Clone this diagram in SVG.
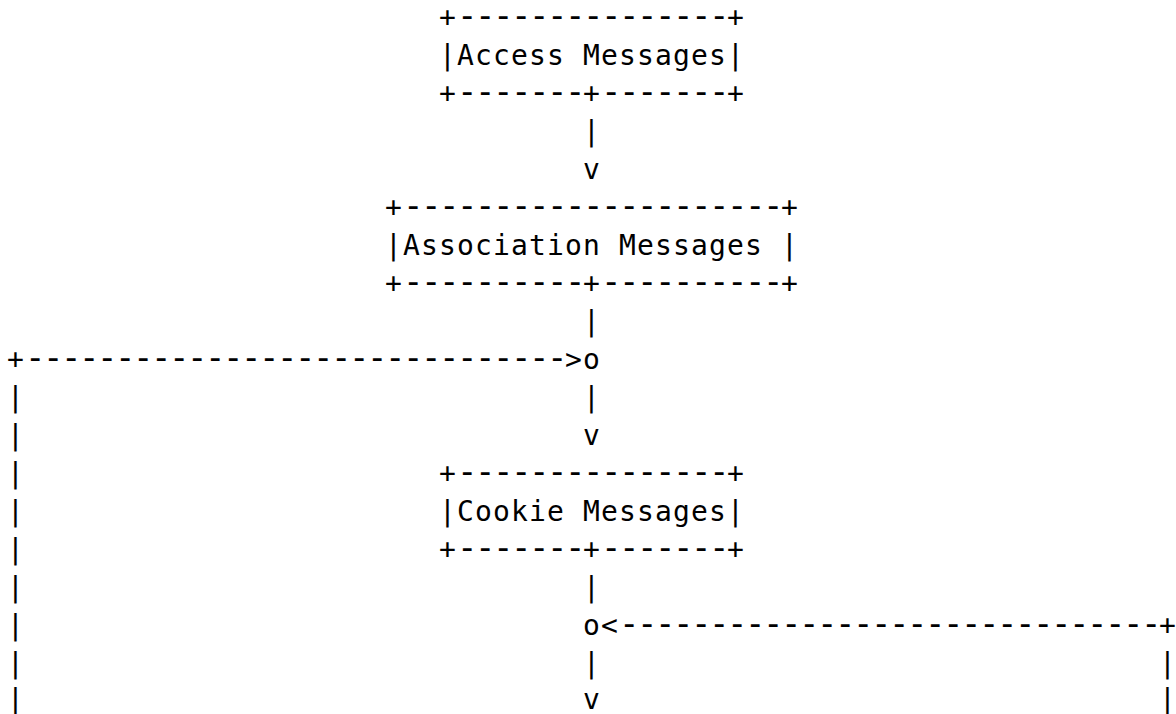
<svg xmlns="http://www.w3.org/2000/svg" width="1176" height="714" viewBox="0 0 1176 714">
<style>
text{font-family:"DejaVu Sans Mono","Liberation Mono",monospace;font-size:28px;letter-spacing:1.14px;fill:#000;white-space:pre}
.d{font-size:34px;letter-spacing:-2.47px}
</style>
<rect width="1176" height="714" fill="#fff"/>
<g id="node-access">
<text x="439" y="27.4">+<tspan class="d">---------------</tspan>+</text>
<text x="439" y="65.35">|Access Messages|</text>
<text x="439" y="103.3">+<tspan class="d">-------</tspan>+<tspan class="d">-------</tspan>+</text>
</g>
<g id="node-association">
<text x="385" y="217.15">+<tspan class="d">---------------------</tspan>+</text>
<text x="385" y="255.1">|Association Messages |</text>
<text x="385" y="293.05">+<tspan class="d">----------</tspan>+<tspan class="d">----------</tspan>+</text>
</g>
<g id="node-cookie">
<text x="439" y="482.8">+<tspan class="d">---------------</tspan>+</text>
<text x="439" y="520.75">|Cookie Messages|</text>
<text x="439" y="558.7">+<tspan class="d">-------</tspan>+<tspan class="d">-------</tspan>+</text>
</g>
<g id="connectors">
<text x="583" y="141.25">|</text>
<text x="583" y="179.2">v</text>
<text x="583" y="331">|</text>
<text x="7" y="368.95">+<tspan class="d">------------------------------</tspan>&gt;o</text>
<text x="583" y="406.9">|</text>
<text x="583" y="444.85">v</text>
<text x="583" y="596.65">|</text>
<text x="583" y="634.6">o&lt;<tspan class="d">------------------------------</tspan>+</text>
<text x="583" y="672.55">|</text>
<text x="583" y="709">v</text>
<text x="1159" y="672.55">|</text>
<text x="1159" y="709">|</text>
<text x="7" y="406.9">|</text>
<text x="7" y="444.85">|</text>
<text x="7" y="482.8">|</text>
<text x="7" y="520.75">|</text>
<text x="7" y="558.7">|</text>
<text x="7" y="596.65">|</text>
<text x="7" y="634.6">|</text>
<text x="7" y="672.55">|</text>
<text x="7" y="709">|</text>
</g>
</svg>
